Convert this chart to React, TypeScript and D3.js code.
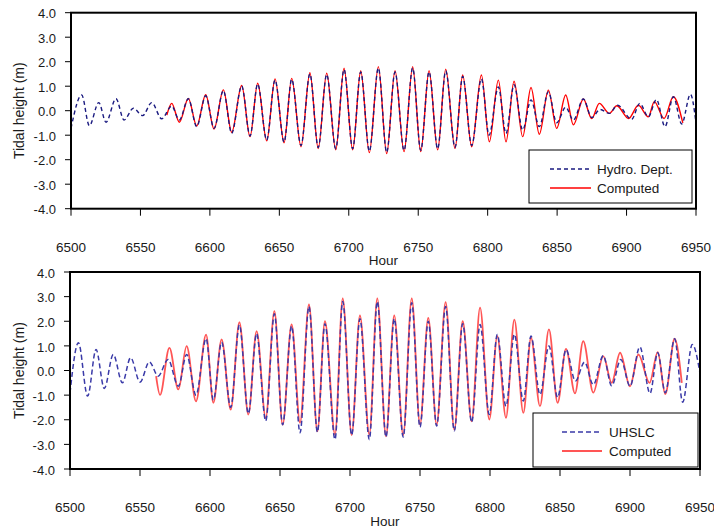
import React from "react";
import * as d3 from "d3";

const hourTicks = [6500, 6550, 6600, 6650, 6700, 6750, 6800, 6850, 6900, 6950];
const heightTicks = [4, 3, 2, 1, 0, -1, -2, -3, -4];

// Top panel: Hydro. Dept. (observed) extrema [hour, tidal height m]
const topHydro: [number, number][] = [
  [6500, -0.72], [6507.7, 0.64], [6513.2, -0.61], [6520, 0.33], [6525.2, -0.47],
  [6532.4, 0.49], [6538.2, -0.38], [6544.9, 0.1], [6551.6, -0.2], [6558.1, 0.33],
  [6565.3, -0.33], [6572.5, 0.19], [6578, -0.38], [6584.5, 0.49], [6590.5, -0.65],
  [6597, 0.61], [6603, -0.72], [6609.7, 0.82], [6615.7, -0.92], [6622.9, 1.01],
  [6628.9, -1.03], [6634.4, 1.09], [6640.9, -1.2], [6646.9, 1.25], [6653.4, -1.28],
  [6658.9, 1.28], [6665.6, -1.42], [6672, 1.5], [6678, -1.5], [6684.1, 1.48],
  [6690.6, -1.55], [6696.6, 1.68], [6702.8, -1.55], [6708.6, 1.58], [6714.8, -1.65],
  [6721.3, 1.74], [6727.3, -1.7], [6733.3, 1.58], [6739.8, -1.62], [6746, 1.74],
  [6751.8, -1.62], [6757.8, 1.58], [6764, -1.55], [6769.8, 1.62], [6776.5, -1.5],
  [6782, 1.4], [6788.5, -1.42], [6795.5, 1.3], [6801, -1.0], [6807.7, 0.97],
  [6813.2, -0.93], [6819, 1.06], [6825.2, -0.79], [6831.2, 0.44], [6837.2, -0.65],
  [6843.7, 0.77], [6849.7, -0.49], [6856.2, 0.14], [6861.7, -0.38], [6868.9, 0.48],
  [6874.9, -0.28], [6881, 0.05], [6887.6, -0.11], [6893.5, 0.22], [6903.7, -0.35],
  [6909.5, 0.3], [6915.7, -0.25], [6921.5, 0.46], [6927.7, -0.65], [6933.7, 0.57],
  [6939.7, -0.54], [6946, 0.67], [6950, -0.5],
];

// Top panel: Computed
const topComputed: [number, number][] = [
  [6569, -0.18], [6572.5, 0.3], [6578, -0.47], [6584.5, 0.5], [6590.5, -0.62],
  [6597, 0.65], [6603, -0.75], [6609.7, 0.85], [6615.7, -0.88], [6622.9, 1.03],
  [6628.9, -1.06], [6634.4, 1.12], [6640.9, -1.23], [6646.9, 1.3], [6653.4, -1.31],
  [6658.9, 1.32], [6665.6, -1.47], [6672, 1.55], [6678, -1.54], [6684.1, 1.53],
  [6690.6, -1.6], [6696.6, 1.73], [6702.8, -1.6], [6708.6, 1.63], [6714.8, -1.71],
  [6721.3, 1.8], [6727.3, -1.75], [6733.3, 1.63], [6739.8, -1.67], [6746, 1.8],
  [6751.8, -1.67], [6757.8, 1.63], [6764, -1.6], [6769.8, 1.69], [6776.5, -1.54],
  [6782, 1.46], [6788.5, -1.47], [6795.5, 1.46], [6801.2, -1.27], [6807.7, 1.25],
  [6813.2, -1.27], [6819, 1.2], [6825.2, -1.06], [6831.2, 0.95], [6837.2, -0.96],
  [6843.7, 0.84], [6849.7, -0.72], [6856.2, 0.64], [6861.7, -0.58], [6868.9, 0.48],
  [6874.9, -0.32], [6880.4, 0.3], [6887.6, -0.11], [6893, 0.2], [6901.5, -0.32],
  [6908.5, 0.22], [6915.7, -0.25], [6920, 0.37], [6927, -0.32], [6933.7, 0.57],
  [6940.5, -0.5],
];

// Bottom panel: UHSLC (observed)
const bottomUhslc: [number, number][] = [
  [6500, -0.91], [6506, 1.13], [6512.6, -1.04], [6518.6, 0.85], [6524.5, -0.73],
  [6530.9, 0.65], [6537.4, -0.5], [6543.3, 0.52], [6550, -0.47], [6556.7, 0.35],
  [6563, -0.23], [6570, 0.45], [6577.4, -0.64], [6583.3, 0.65], [6590, -1.0],
  [6597.2, 1.3], [6602.4, -1.2], [6608.3, 1.15], [6614.8, -1.5], [6621, 1.85],
  [6627.4, -1.75], [6633.3, 1.5], [6639.8, -2.05], [6646, 2.3], [6651.9, -2.2],
  [6658.3, 1.8], [6664.3, -2.53], [6670.7, 2.6], [6676.7, -2.5], [6682.1, 1.9],
  [6689.3, -2.8], [6694.8, 2.8], [6701.2, -2.62], [6707.1, 2.1], [6713.8, -2.8],
  [6719.5, 2.8], [6725.7, -2.7], [6731.6, 2.1], [6738, -2.7], [6744.1, 2.75],
  [6750, -2.3], [6755.9, 2.0], [6761.9, -2.25], [6768.3, 2.6], [6774.5, -2.45],
  [6780.5, 1.9], [6786.9, -2.1], [6792.9, 1.87], [6799.5, -1.79], [6805.2, 1.46],
  [6811.4, -1.45], [6817.4, 1.47], [6823.8, -1.24], [6829.3, 1.4], [6835.7, -0.98],
  [6842.1, 1.0], [6848.3, -1.1], [6854.3, 0.85], [6861, -0.43], [6867.5, 0.34],
  [6873.8, -0.58], [6880.9, 0.6], [6886.9, -0.62], [6893.5, 0.45], [6900, -0.64],
  [6907, 0.96], [6914.3, -0.93], [6919.8, 0.72], [6925.2, -0.9], [6931.9, 1.29],
  [6937.6, -1.29], [6944.5, 1.06], [6950, -0.1],
];

// Bottom panel: Computed
const bottomComputed: [number, number][] = [
  [6561.5, -0.23], [6564.3, -0.99], [6571, 0.92], [6577.4, -0.77], [6583.3, 0.99],
  [6590, -1.25], [6597.2, 1.46], [6602.4, -1.31], [6608.3, 1.26], [6614.8, -1.59],
  [6621, 1.96], [6627.4, -1.79], [6633.3, 1.6], [6639.8, -1.92], [6646, 2.41],
  [6651.9, -2.2], [6658.3, 1.87], [6664.3, -2.12], [6670.7, 2.68], [6676.7, -2.47],
  [6682.1, 2.0], [6689.3, -2.6], [6694.8, 2.93], [6701.2, -2.62], [6707.1, 2.24],
  [6713.8, -2.6], [6719.5, 2.93], [6725.7, -2.67], [6731.6, 2.24], [6738, -2.62],
  [6744.1, 2.93], [6750, -2.2], [6755.9, 2.14], [6761.9, -2.2], [6768.3, 2.78],
  [6774.5, -2.4], [6780.5, 2.0], [6786.9, -2.06], [6792.9, 2.55], [6799.5, -1.99],
  [6805.2, 1.4], [6811.4, -1.92], [6817.4, 2.07], [6823.8, -1.72], [6829.3, 1.33],
  [6835.7, -1.45], [6842.1, 1.67], [6848.3, -1.31], [6854.3, 0.88], [6860.7, -0.93],
  [6866.6, 1.19], [6873.8, -0.9], [6880.9, 0.58], [6886.9, -0.5], [6892.9, 0.72],
  [6900, -0.64], [6906, 0.65], [6914, -0.5], [6919.8, 0.75], [6925.2, -0.96],
  [6931.9, 1.29], [6937, -0.5],
];

const FONT = "'Liberation Sans', Arial, sans-serif";
const TXT = "#1a1a1a";

type PanelProps = {
  x0: number; x1: number; y0: number; y1: number;
  tickLabelY: number; titleY: number;
  obs: [number, number][]; comp: [number, number][];
  obsLabel: string; obsColor: string; compColor: string;
  obsWidth: number; compWidth: number; dash: string;
  legend: { x: number; y: number; w: number; h: number; lineX0: number; lineX1: number; textX: number; row1: number; row2: number };
  clipId: string;
};

function Panel(p: PanelProps) {
  const x = d3.scaleLinear().domain([6500, 6950]).range([p.x0, p.x1]);
  const y = d3.scaleLinear().domain([-4, 4]).range([p.y1, p.y0]);
  const line = d3.line<[number, number]>()
    .x((d) => x(d[0]))
    .y((d) => y(d[1]))
    .curve(d3.curveMonotoneX);
  const midY = (p.y0 + p.y1) / 2;
  return (
    <g>
      <defs>
        <clipPath id={p.clipId}>
          <rect x={p.x0} y={p.y0} width={p.x1 - p.x0} height={p.y1 - p.y0} />
        </clipPath>
      </defs>
      <rect x={p.x0} y={p.y0} width={p.x1 - p.x0} height={p.y1 - p.y0} fill="#fff" />
      <g clipPath={`url(#${p.clipId})`}>
        <path d={line(p.comp) || ""} fill="none" stroke={p.compColor} strokeWidth={p.compWidth} />
        <path d={line(p.obs) || ""} fill="none" stroke={p.obsColor} strokeWidth={p.obsWidth} strokeDasharray={p.dash} />
      </g>
      <rect x={p.x0} y={p.y0} width={p.x1 - p.x0} height={p.y1 - p.y0} fill="none" stroke="#000" strokeWidth={2} />
      {heightTicks.map((t) => (
        <g key={"y" + t}>
          <line x1={p.x0 - 6} x2={p.x0} y1={y(t)} y2={y(t)} stroke="#000" strokeWidth={1} />
          <text x={p.x0 - 15} y={y(t) + 1} dy="0.36em" textAnchor="end" fontSize={13} fontFamily={FONT} fill={TXT}>
            {t.toFixed(1)}
          </text>
        </g>
      ))}
      {hourTicks.map((t) => (
        <g key={"x" + t}>
          <line x1={x(t)} x2={x(t)} y1={p.y1} y2={p.y1 + 7} stroke="#000" strokeWidth={1} />
          <text x={x(t)} y={p.tickLabelY} dy="0.36em" textAnchor="middle" fontSize={13.5} fontFamily={FONT} fill={TXT}>
            {t}
          </text>
        </g>
      ))}
      <text x={x(6725)} y={p.titleY} dy="0.36em" textAnchor="middle" fontSize={13.5} fontFamily={FONT} fill={TXT}>Hour</text>
      <text transform={`translate(18.5,${midY}) rotate(-90)`} dy="0.36em" textAnchor="middle" fontSize={14} fontFamily={FONT} fill={TXT}>
        Tidal height (m)
      </text>
      <rect x={p.legend.x} y={p.legend.y} width={p.legend.w} height={p.legend.h} fill="#fff" stroke="#000" strokeWidth={1} />
      <line x1={p.legend.lineX0} x2={p.legend.lineX1} y1={p.legend.row1} y2={p.legend.row1} stroke={p.obsColor} strokeWidth={p.obsWidth} strokeDasharray={p.dash} />
      <text x={p.legend.textX} y={p.legend.row1} dy="0.36em" fontSize={13.5} fontFamily={FONT} fill={TXT}>{p.obsLabel}</text>
      <line x1={p.legend.lineX0} x2={p.legend.lineX1} y1={p.legend.row2} y2={p.legend.row2} stroke={p.compColor} strokeWidth={p.compWidth} />
      <text x={p.legend.textX} y={p.legend.row2} dy="0.36em" fontSize={13.5} fontFamily={FONT} fill={TXT}>Computed</text>
    </g>
  );
}

export default function App() {
  return (
    <svg width={714} height={529} style={{ position: "absolute", left: 0, top: 0, background: "#fff" }}>
      <rect x={0} y={0} width={714} height={529} fill="#fff" />
      <Panel
        x0={71} x1={696} y0={12.7} y1={208.7} tickLabelY={247} titleY={260}
        obs={topHydro} comp={topComputed}
        obsLabel="Hydro. Dept." obsColor="#1a1a80" compColor="#ff0000"
        obsWidth={1.4} compWidth={1.4} dash="4,3"
        legend={{ x: 529, y: 150, w: 163, h: 53, lineX0: 550, lineX1: 591, textX: 597, row1: 169, row2: 188 }}
        clipId="clipTop"
      />
      <Panel
        x0={70} x1={700} y0={272} y1={469} tickLabelY={507} titleY={521}
        obs={bottomUhslc} comp={bottomComputed}
        obsLabel="UHSLC" obsColor="#3a3aa8" compColor="#ff5555"
        obsWidth={1.5} compWidth={1.8} dash="5,3"
        legend={{ x: 533, y: 413, w: 165, h: 54, lineX0: 562, lineX1: 602, textX: 609, row1: 432, row2: 451 }}
        clipId="clipBottom"
      />
    </svg>
  );
}
